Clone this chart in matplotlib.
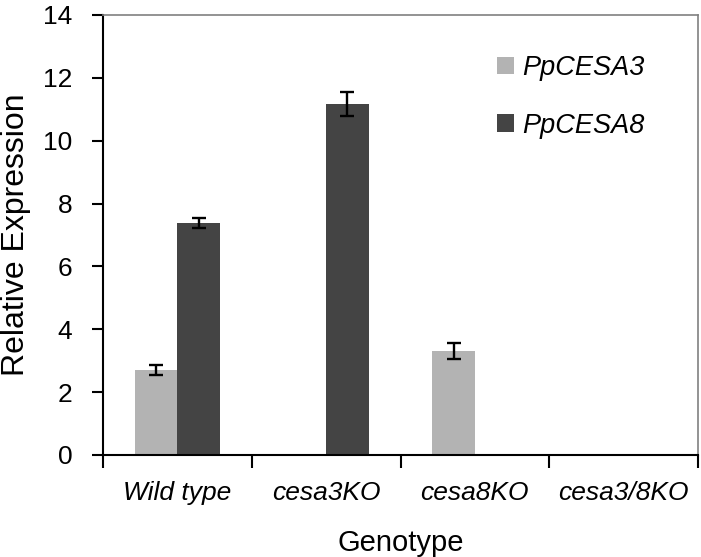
import matplotlib
matplotlib.use("Agg")
import matplotlib.pyplot as plt
import numpy as np
from matplotlib.patches import Patch

categories = ["Wild type", "cesa3KO", "cesa8KO", "cesa3/8KO"]
series_names = ["PpCESA3", "PpCESA8"]
cesa3_values = [2.7, 0.0, 3.3, 0.0]
cesa3_errors = [0.15, 0.0, 0.25, 0.0]
cesa8_values = [7.38, 11.17, 0.0, 0.0]
cesa8_errors = [0.15, 0.38, 0.0, 0.0]
yticks = [0, 2, 4, 6, 8, 10, 12, 14]

plt.rcParams['font.family'] = ['Liberation Sans', 'DejaVu Sans']

fig = plt.figure(figsize=(7.01, 5.57), dpi=100)
ax = fig.add_axes([103/701, 1-455/557, (698-103)/701, (455-15)/557])

x = np.arange(len(categories))
w = 0.286
c3 = "#b3b3b3"
c8 = "#444444"

def draw(offset, vals, errs, color):
    ax.bar(x + offset, vals, width=w, color=color, zorder=2)
    for xi, v, e in zip(x, vals, errs):
        if v > 0:
            ax.errorbar(xi + offset, v, yerr=e, fmt='none', ecolor='black',
                        elinewidth=1.7, capsize=4.8, capthick=1.7, zorder=3)

draw(-w/2, cesa3_values, cesa3_errors, c3)
draw(w/2, cesa8_values, cesa8_errors, c8)

ax.set_xlim(-0.5, len(categories) - 0.5)
ax.set_ylim(0, 14)
ax.set_yticks(yticks)
ax.set_yticklabels([str(t) for t in yticks], fontsize=19)
ax.tick_params(axis='y', direction='out', length=8, width=1.5, pad=14, colors='black')

ax.set_xticks(x)
ax.set_xticklabels(categories, fontsize=19, style='italic')
ax.tick_params(axis='x', which='major', length=0, pad=19)
ax.set_xticks(np.arange(len(categories) + 1) - 0.5, minor=True)
ax.tick_params(axis='x', which='minor', direction='out', length=9, width=1.5)

for s in ['left', 'bottom']:
    ax.spines[s].set_color('black')
    ax.spines[s].set_linewidth(1.5)
for s in ['top', 'right']:
    ax.spines[s].set_color('#808080')
    ax.spines[s].set_linewidth(1.2)

ax.set_ylabel("Relative Expression", fontsize=23, labelpad=9)
ax.set_xlabel("Genotype", fontsize=21, labelpad=17)

handles = [Patch(facecolor=c3, edgecolor='none'), Patch(facecolor=c8, edgecolor='none')]
leg = ax.legend(handles, series_names, loc='upper left',
                bbox_to_anchor=(492/701, 1-50/557), bbox_transform=fig.transFigure,
                frameon=False, fontsize=19.5, handlelength=0.6, handleheight=0.6,
                handletextpad=0.33, labelspacing=1.15, borderpad=0.2, borderaxespad=0)
for t in leg.get_texts():
    t.set_style('italic')

fig.savefig("out.png", dpi=100)
